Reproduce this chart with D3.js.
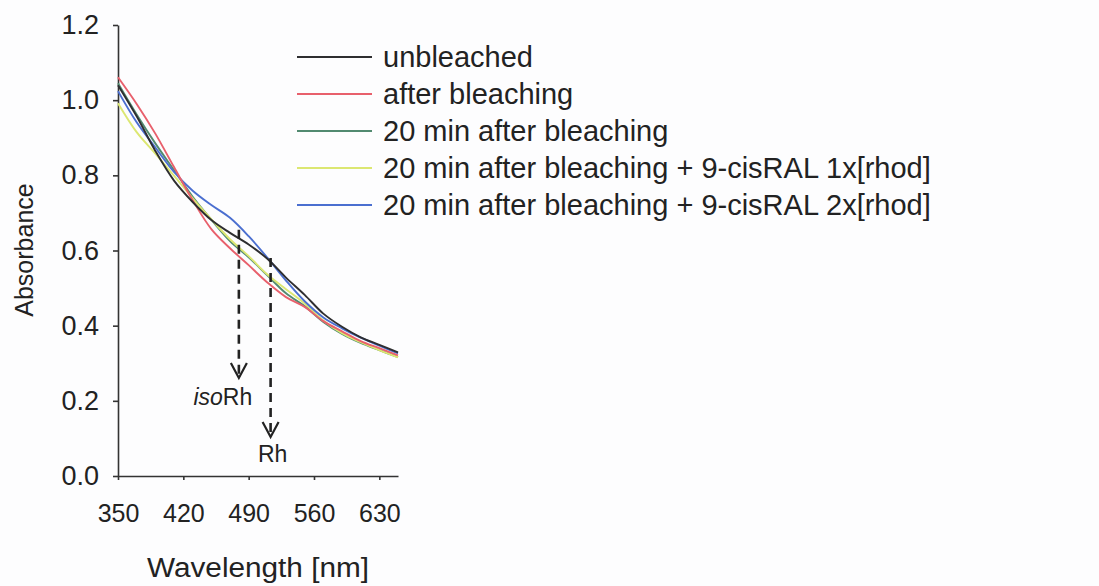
<!DOCTYPE html>
<html><head><meta charset="utf-8">
<script src="https://cdn.jsdelivr.net/npm/d3@7"></script>
<style>
html,body{margin:0;padding:0;background:#fdfdfe;}
svg{display:block;font-family:"Liberation Sans",Arial,sans-serif;}
</style></head><body>
<svg id="c" width="1099" height="586"></svg>
<script>
// ---------- data ----------
const wavelengths = [350,370,390,410,430,450,470,490,510,530,550,570,590,610,630,650];
const unbleached  = [1.040,0.957,0.865,0.786,0.729,0.681,0.647,0.616,0.578,0.528,0.482,0.432,0.397,0.369,0.349,0.329];
const afterBleach = [1.061,0.990,0.911,0.822,0.734,0.657,0.606,0.561,0.515,0.476,0.450,0.412,0.385,0.359,0.340,0.321];
const min20       = [1.045,0.962,0.885,0.814,0.743,0.682,0.625,0.582,0.534,0.486,0.452,0.410,0.378,0.354,0.335,0.316];
const min20cis1x  = [0.992,0.915,0.858,0.799,0.739,0.683,0.630,0.585,0.536,0.497,0.459,0.414,0.380,0.356,0.335,0.316];
const min20cis2x  = [1.024,0.941,0.874,0.809,0.759,0.721,0.687,0.638,0.581,0.520,0.465,0.422,0.393,0.368,0.347,0.326];

const seriesNames  = ["unbleached","after bleaching","20 min after bleaching",
                      "20 min after bleaching + 9-cisRAL 1x[rhod]","20 min after bleaching + 9-cisRAL 2x[rhod]"];
const seriesValues = [unbleached, afterBleach, min20, min20cis1x, min20cis2x];
const seriesColors = ["#2e2e30","#e8606c","#528a70","#dce772","#4b6fd0"];
const drawOrder    = [2,3,4,1,0];

const xTicks = [350,420,490,560,630];
const yTicks = [0,0.2,0.4,0.6,0.8,1.0,1.2];

const markerLabels      = ["iso|Rh","Rh"];
const markerWavelengths = [479.5,513.5];
const markerTop         = [0.655,0.580];
const markerTip         = [0.261,0.104];

// ---------- layout ----------
const svg = d3.select("#c");
const X0 = 118, X1 = 398, Y0 = 476, Y1 = 25;
const x = d3.scaleLinear().domain([350,650]).range([X0,X1]);
const y = d3.scaleLinear().domain([0,1.2]).range([Y0,Y1]);

// axes
const axisColor = "#333";
const yAxis = svg.append("g").attr("transform",`translate(${X0},0)`)
  .call(d3.axisLeft(y).tickValues(yTicks).tickFormat(d3.format(".1f")).tickSize(5).tickSizeOuter(0).tickPadding(14));
const xAxis = svg.append("g").attr("transform",`translate(0,${Y0})`)
  .call(d3.axisBottom(x).tickValues(xTicks).tickFormat(d3.format("d")).tickSize(4).tickSizeOuter(0).tickPadding(24));
[yAxis,xAxis].forEach(g=>{
  g.select(".domain").attr("stroke",axisColor).attr("stroke-width",1.6);
  g.selectAll(".tick line").attr("stroke",axisColor).attr("stroke-width",1.6);
  g.selectAll(".tick text").attr("fill","#222").style("font-family","'Liberation Sans',Arial,sans-serif");
});
yAxis.selectAll(".tick text").style("font-size","27px");
xAxis.selectAll(".tick text").style("font-size","25px");

// axis titles
svg.append("text").attr("x",258).attr("y",577).attr("text-anchor","middle")
  .attr("fill","#222").style("font-size","27px")
  .attr("textLength",222).attr("lengthAdjust","spacingAndGlyphs").text("Wavelength [nm]");
svg.append("text").attr("transform","translate(33,250) rotate(-90)").attr("text-anchor","middle")
  .attr("fill","#222").style("font-size","25px").text("Absorbance");

// curves
const line = d3.line().x(d=>x(d[0])).y(d=>y(d[1])).curve(d3.curveCatmullRom.alpha(0.5));
drawOrder.forEach(i=>{
  svg.append("path")
    .datum(wavelengths.map((w,j)=>[w,seriesValues[i][j]]))
    .attr("fill","none").attr("stroke",seriesColors[i]).attr("stroke-width",1.9)
    .attr("stroke-linejoin","round").attr("d",line);
});

// dashed markers with open arrowheads
markerLabels.forEach((lab,i)=>{
  const mx = x(markerWavelengths[i]), yt = y(markerTop[i]), yb = y(markerTip[i]);
  svg.append("line").attr("x1",mx).attr("x2",mx).attr("y1",yt).attr("y2",yb-2)
    .attr("stroke","#222").attr("stroke-width",2.6).attr("stroke-dasharray","9,6");
  svg.append("path").attr("d",`M${mx-8},${yb-15}L${mx},${yb}L${mx+8},${yb-15}`)
    .attr("fill","none").attr("stroke","#222").attr("stroke-width",2.2);
  const parts = lab.split("|");
  const t = svg.append("text").attr("x", i===0 ? mx-16 : mx+2).attr("y", yb + (i===0?27:25))
    .attr("text-anchor","middle").attr("fill","#222").style("font-size","23px");
  if (parts.length===2){
    t.append("tspan").style("font-style","italic").text(parts[0]);
    t.append("tspan").text(parts[1]);
  } else t.text(parts[0]);
});

// legend
const lg = svg.append("g");
seriesNames.forEach((n,i)=>{
  const ly = 57 + i*37;
  lg.append("line").attr("x1",297).attr("x2",372).attr("y1",ly).attr("y2",ly)
    .attr("stroke",seriesColors[i]).attr("stroke-width",2);
  lg.append("text").attr("x",383).attr("y",ly).attr("dy","0.36em")
    .attr("fill","#222").style("font-size","29px").text(n);
});
</script>
</body></html>
